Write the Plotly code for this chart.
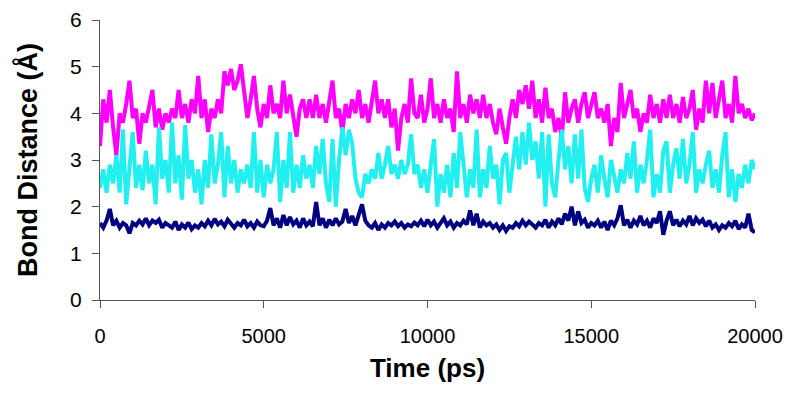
import plotly.graph_objects as go

# Time axis (ps), sampled every 100 ps
time_ps = list(range(0, 20001, 100))

# Series values (Å)
magenta_vals = [
    3.3, 4.3, 3.8, 4.5, 3.7, 3.1, 4.0, 3.8, 4.2, 4.7,
    3.9, 4.1, 3.35, 4.0, 3.8, 4.2, 4.5, 3.7, 4.1, 3.65,
    4.0, 3.8, 4.1, 3.9, 4.5, 3.9, 4.2, 3.8, 4.3, 4.0,
    4.8, 3.9, 4.3, 3.6, 4.1, 3.9, 4.3, 4.0, 4.9, 4.6,
    4.95, 4.5, 4.7, 5.05, 4.4, 3.9, 4.3, 4.8, 4.1, 3.7,
    4.2, 3.9, 4.6, 4.0, 4.2, 3.9, 4.7, 4.0, 4.4, 3.9,
    3.5, 4.1, 4.3, 3.9, 4.3, 3.9, 4.4, 3.9, 4.2, 3.8,
    4.2, 4.7, 3.9, 4.1, 3.6, 4.2, 3.9, 4.3, 4.0, 4.5,
    3.9, 4.2, 3.8, 4.3, 4.7, 4.0, 4.3, 3.9, 4.3, 3.7,
    4.1, 3.2, 3.9, 4.2, 3.8, 4.75, 4.0, 3.9, 4.4, 3.8,
    4.1, 4.75, 3.9, 4.2, 3.8, 4.3, 3.9, 4.1, 3.6, 4.9,
    3.9, 4.2, 3.8, 4.4, 4.0, 4.3, 3.9, 4.4, 3.9, 4.2,
    3.8, 3.55, 4.1, 3.7, 3.35, 3.9, 4.3, 3.9, 4.5, 4.2,
    4.6, 4.1, 4.7, 3.9, 4.3, 3.8, 4.55, 3.9, 4.1, 3.6,
    3.9, 3.45, 4.45, 3.8, 4.1, 4.3, 3.8, 4.2, 4.45, 3.9,
    4.2, 4.45, 3.9, 4.1, 3.8, 4.2, 3.3, 3.9, 3.6, 4.65,
    3.9, 4.2, 4.5, 3.9, 4.1, 3.6, 4.0, 3.8, 4.4, 3.9,
    4.2, 3.8, 4.3, 3.9, 4.4, 3.9, 4.2, 3.8, 4.35, 3.9,
    4.1, 4.5, 3.65, 4.1, 3.8, 4.7, 4.0, 4.65, 3.9, 4.3,
    4.7, 3.9, 4.2, 3.8, 4.8, 4.0, 4.2, 3.9, 4.1, 3.85,
    4.0,
]

cyan_vals = [
    2.4, 2.8, 2.3, 2.9, 2.5, 3.1, 2.3, 3.65, 2.05, 2.8,
    3.6, 2.4, 2.9, 2.35, 3.2, 2.5, 2.9, 2.05, 3.7, 2.6,
    3.0, 2.3, 3.8, 2.5, 3.1, 2.15, 3.75, 2.6, 3.0, 2.3,
    2.8, 2.05, 3.0, 2.4, 3.55, 2.5, 2.9, 3.6, 2.2, 3.3,
    2.5, 3.0, 2.3, 2.8, 2.5, 2.9, 2.4, 3.6, 2.3, 3.0,
    2.2, 2.9, 2.5, 2.8, 3.6, 2.1, 3.0, 2.4, 3.6, 2.3,
    2.9, 2.4, 3.1, 2.6, 2.9, 2.4, 3.3, 2.7, 3.45, 2.5,
    2.1, 3.45, 2.0, 3.0, 3.7, 3.1, 3.65, 3.35, 2.6, 2.3,
    2.2, 2.7, 2.5, 2.8, 2.6, 3.15, 2.6, 2.9, 3.3, 2.7,
    2.9, 2.6, 3.0, 2.7, 2.9, 3.55, 2.7, 2.9, 2.4, 2.8,
    2.3, 2.9, 3.45, 2.0, 2.7, 2.3, 2.9, 2.2, 3.15, 2.4,
    3.6, 2.9, 2.2, 2.8, 2.4, 3.65, 2.2, 2.8, 2.4, 3.3,
    2.6, 2.9, 2.05, 3.0, 3.15, 2.3, 2.9, 3.5, 2.8, 3.6,
    2.9, 3.8, 3.0, 3.4, 2.6, 3.6, 2.0, 3.55, 2.5, 2.2,
    3.0, 3.65, 2.8, 3.3, 2.5, 3.55, 2.6, 3.65, 2.4, 2.1,
    2.6, 2.9, 2.3, 3.1, 2.6, 2.2, 3.0, 2.6, 2.3, 2.8,
    2.5, 3.15, 2.6, 3.4, 2.3, 2.9, 2.5, 3.0, 3.65, 2.2,
    2.7, 2.3, 3.2, 3.4, 2.3, 2.9, 3.25, 2.6, 3.45, 2.5,
    2.9, 3.6, 2.3, 2.8, 2.5, 2.9, 3.2, 2.4, 2.8, 2.3,
    3.1, 3.6, 2.2, 2.8, 2.1, 2.7, 2.4, 2.9, 2.5, 3.0,
    2.8,
]

navy_vals = [
    1.65, 1.55, 1.7, 1.95, 1.6, 1.7, 1.55, 1.65, 1.6, 1.43,
    1.65, 1.6, 1.7, 1.62, 1.75, 1.6, 1.7, 1.65, 1.72, 1.55,
    1.65, 1.6, 1.55, 1.68, 1.5, 1.62, 1.55, 1.66, 1.52, 1.6,
    1.55, 1.65, 1.58, 1.7, 1.6, 1.74, 1.62, 1.68, 1.58, 1.72,
    1.62, 1.55, 1.65, 1.6, 1.72, 1.58, 1.65, 1.55, 1.68, 1.6,
    1.58, 1.7, 1.97, 1.6, 1.75, 1.55, 1.82, 1.6, 1.78, 1.62,
    1.7, 1.55, 1.75, 1.6, 1.68, 1.58, 2.1, 1.6, 1.75, 1.55,
    1.72, 1.6, 1.75, 1.62, 1.68, 1.95, 1.65, 1.8, 1.6, 1.85,
    2.05, 1.7, 1.6, 1.55, 1.65, 1.5, 1.62, 1.55, 1.65, 1.6,
    1.68, 1.58, 1.65, 1.55, 1.62, 1.58, 1.66, 1.6, 1.7, 1.58,
    1.72, 1.6, 1.68, 1.55, 1.65, 1.75, 1.6, 1.68, 1.55, 1.65,
    1.6, 1.7, 1.62, 1.92, 1.6, 1.85, 1.55, 1.68, 1.6, 1.65,
    1.55, 1.62, 1.5, 1.6, 1.48, 1.58, 1.55, 1.65, 1.58, 1.7,
    1.6, 1.68, 1.62, 1.55, 1.65, 1.6, 1.72, 1.55, 1.68, 1.6,
    1.75, 1.62, 1.85, 1.7, 2.0, 1.6, 1.9, 1.65, 1.72, 1.55,
    1.65, 1.6, 1.7, 1.55, 1.68, 1.5, 1.7, 1.6, 1.75, 2.03,
    1.6, 1.72, 1.55, 1.7, 1.62, 1.8, 1.6, 1.7, 1.55, 1.75,
    1.65, 1.9, 1.4, 1.7, 1.9, 1.6, 1.72, 1.58, 1.7, 1.62,
    1.8, 1.6, 1.75, 1.65, 1.72, 1.58, 1.7, 1.55, 1.62, 1.5,
    1.6, 1.55, 1.65, 1.58, 1.7, 1.52, 1.62, 1.55, 1.85, 1.5,
    1.45,
]

x_ticks = [0, 5000, 10000, 15000, 20000]
y_ticks = [0, 1, 2, 3, 4, 5, 6]

FONT = "Liberation Sans, Arial, sans-serif"

fig = go.Figure()
for vals, color in [(magenta_vals, "#FF00FF"), (cyan_vals, "#22F0F0"), (navy_vals, "#000080")]:
    fig.add_trace(go.Scatter(x=time_ps, y=vals, mode="lines",
                             line=dict(color=color, width=4),
                             showlegend=False, hoverinfo="skip"))

# The page body has an 8px margin, so the figure is sized 792x392
fig.update_layout(
    width=792, height=392,
    margin=dict(l=92, r=45, t=12, b=100),
    paper_bgcolor="white", plot_bgcolor="white",
    font=dict(family=FONT, color="black"),
    xaxis=dict(
        range=[0, 20000], tickvals=x_ticks, ticktext=[str(v) for v in x_ticks],
        showline=True, linecolor="#555", linewidth=1.2, mirror=False,
        ticks="outside", ticklen=7, tickcolor="#555",
        showgrid=False, zeroline=False, automargin=False,
        tickfont=dict(size=20, family=FONT), ticklabelstandoff=11,
        title=dict(text="<b>Time (ps)</b>", font=dict(size=26, family=FONT), standoff=12),
    ),
    yaxis=dict(
        range=[0, 6], tickvals=y_ticks,
        showline=True, linecolor="#555", linewidth=1.2,
        ticks="outside", ticklen=7, tickcolor="#555",
        showgrid=False, zeroline=False, automargin=False,
        tickfont=dict(size=21, family=FONT), ticklabelstandoff=6,
        title=dict(text="<b>Bond Distance (Å)</b>", font=dict(size=27, family=FONT), standoff=24),
    ),
)

fig.write_html("out.html")
